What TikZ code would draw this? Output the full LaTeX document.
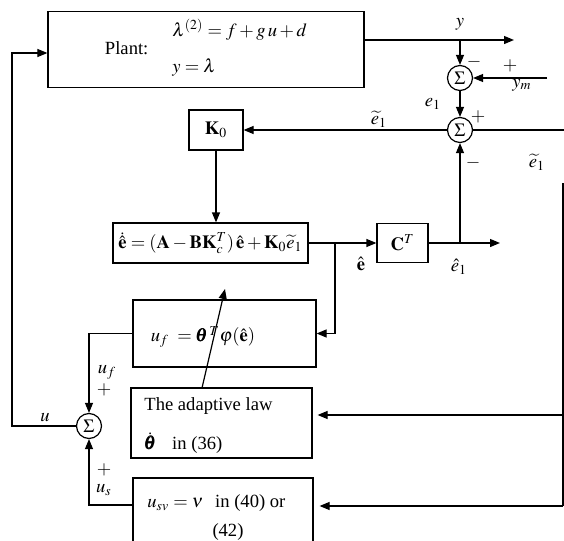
\documentclass[tikz,border=0pt]{standalone}
\usepackage{amsmath}
\usepackage{mathptmx}
\usepackage{fontspec}
\setmainfont{Liberation Serif}
\usetikzlibrary{arrows.meta,positioning}
\newcommand{\dgfont}{\fontsize{9.3}{11}\selectfont}

\begin{document}
\begin{tikzpicture}[
    x=0.5pt, y=-0.5pt,
    every node/.style={font=\dgfont},
    flow/.style={-{Triangle[length=5pt,width=4pt]}, line width=0.6pt},
    wire/.style={line width=0.6pt},
    blk/.style={draw, line width=0.6pt, inner sep=0pt},
    sumc/.style={draw, circle, line width=0.6pt, minimum size=12.5pt, inner sep=0pt},
    lbl/.style={inner sep=0pt}
  ]
    \useasboundingbox (0,0) rectangle (564,541);

    % blocks
    \node[blk, minimum width=158pt, minimum height=38pt] (plant) at (206,49.5)
      {Plant:\hspace{12pt}$\begin{array}{@{}l@{}}\lambda^{(2)}=f+g\,u+d\\[7pt] y=\lambda\end{array}$};
    \node[blk, minimum width=27pt, minimum height=20pt] (K0) at (216,130) {$\mathbf{K}_0$};
    \node[blk, minimum width=97.5pt, minimum height=20pt] (ehat) at (210.5,243)
      {$\dot{\hat{\mathbf{e}}}=(\mathbf{A}-\mathbf{B}\mathbf{K}_c^{T})\,\hat{\mathbf{e}}+\mathbf{K}_0\widetilde{e}_1$};
    \node[blk, minimum width=25.5pt, minimum height=19.5pt] (CT) at (402.5,243) {$\mathbf{C}^{T}$};
    \node[blk, minimum width=91.5pt, minimum height=33.5pt] (ufbox) at (224.5,333.5) {};
    \node[blk, minimum width=90.5pt, minimum height=35pt] (adapt) at (221.5,423) {};
    \node[blk, minimum width=90pt, minimum height=34pt] (usv) at (223,512) {};

    % summing junctions
    \node[sumc] (sum1) at (460,78) {$\Sigma$};
    \node[sumc] (sum2) at (460,130) {$\Sigma$};
    \node[sumc] (sum3) at (89,426) {$\Sigma$};

    % texts inside the lower blocks
    \node[lbl] (uftxt) at (203,337) {$u_f\;=\pmb{\theta}^{\,T}\varphi(\hat{\mathbf{e}})$};
    \node[lbl, anchor=west] (adtxt1) at (144,406) {The adaptive law};
    \node[lbl, anchor=west] (adtxt2) at (144,443) {$\dot{\pmb{\theta}}$\hspace{8pt}in (36)};
    \node[lbl, anchor=west] (ustxt1) at (147,503) {$u_{sv}=\nu$\hspace{6pt}in (40) or};
    \node[lbl] (ustxt2) at (228,532) {(42)};

    % signal labels
    \node[lbl] (ylab) at (460,24) {$y$};
    \node[lbl] (m1) at (474,62) {$-$};
    \node[lbl] (p1) at (510,66) {$+$};
    \node[lbl] (ymlab) at (522,85) {$y_m$};
    \node[lbl] (e1lab) at (433,104) {$e_1$};
    \node[lbl] (p2) at (478,117) {$+$};
    \node[lbl] (et1) at (379,119) {$\widetilde{e}_1$};
    \node[lbl] (et2) at (537,162) {$\widetilde{e}_1$};
    \node[lbl] (m2) at (473,163) {$-$};
    \node[lbl] (ehlab) at (361,264) {$\hat{\mathbf{e}}$};
    \node[lbl] (eh1lab) at (459,267) {$\hat{e}_1$};
    \node[lbl] (ulab) at (45,418) {$u$};
    \node[lbl] (uflab) at (107,372) {$u_f$};
    \node[lbl] (p3) at (104,390) {$+$};
    \node[lbl] (p4) at (104,470) {$+$};
    \node[lbl] (uslab) at (104,490) {$u_s$};

    % branch points and free ends
    \coordinate (ybr) at (460,40);
    \coordinate (yend) at (514,40);
    \coordinate (ymin) at (547,78);
    \coordinate (etend) at (564,130);
    \coordinate (ebr) at (335,243);
    \coordinate (e1br) at (460,243);
    \coordinate (ctend) at (500,243);
    \coordinate (uleft) at (12,426);
    \coordinate (lawtop) at (202,388);
    \coordinate (lawtip) at (225,289);
    \coordinate (rtop) at (563,183);
    \coordinate (radapt) at (563,415);
    \coordinate (rbot) at (563,506);

    % connectors
    \draw[flow] (plant.east |- ybr) -- (yend);
    \draw[flow] (ybr) -- (sum1);
    \draw[flow] (ymin) -- (sum1);
    \draw[flow] (sum1) -- (sum2);
    \draw[flow] (sum2) -- (K0);
    \draw[wire] (sum2) -- (etend);
    \draw[flow] (K0) -- (K0 |- ehat.north);
    \draw[flow] (ehat) -- (CT);
    \draw[flow] (ebr) |- (ufbox.east);
    \draw[flow] (CT) -- (ctend);
    \draw[flow] (e1br) -- (sum2);
    \draw[flow] (ufbox.west) -| (sum3);
    \draw[flow] ([yshift=3.5pt]usv.west) -| (sum3);
    \draw[flow] (sum3) -- (uleft) |- ([yshift=-1.75pt]plant.west);
    \draw[flow] (lawtop) -- (lawtip);
    \draw[wire] (rtop) -- (rbot);
    \draw[flow, shorten >=2.5pt] (radapt) -- ([yshift=4pt]adapt.east);
    \draw[flow, shorten >=3pt] (rbot) -- ([yshift=3pt]usv.east);
  \end{tikzpicture}
\end{document}
